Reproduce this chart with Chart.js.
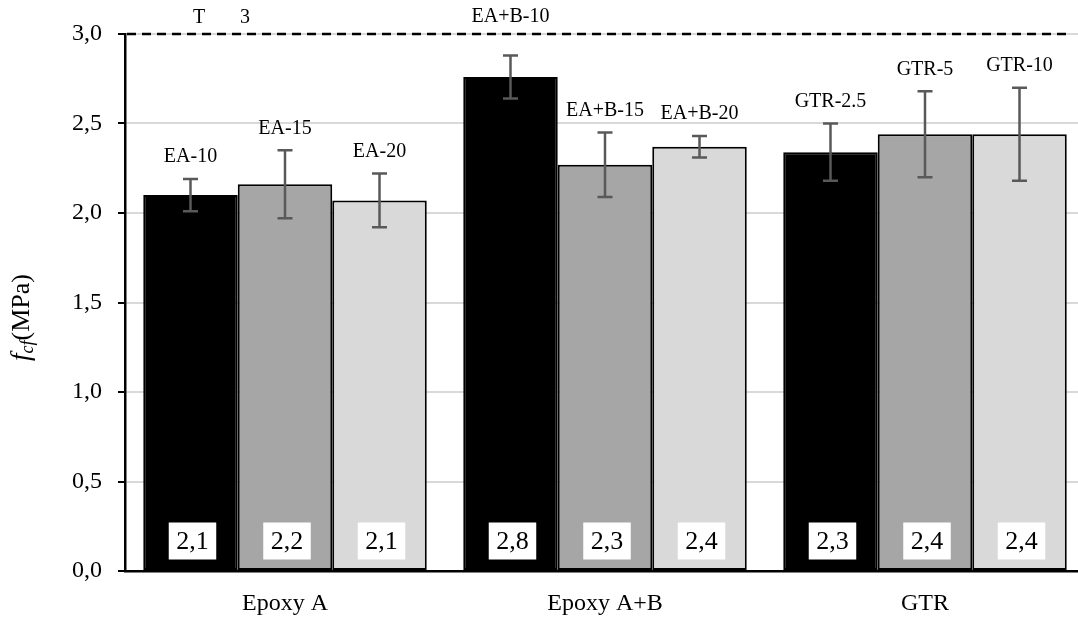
<!DOCTYPE html>
<html>
<head>
<meta charset="utf-8">
<script src="https://cdn.jsdelivr.net/npm/chart.js@4.4.1/dist/chart.umd.min.js"></script>
<style>
  html, body { margin: 0; padding: 0; background: #fff; overflow: hidden; }
  #wrap { width: 1078px; height: 617px; overflow: hidden; }
  canvas { display: block; }
</style>
</head>
<body>
<div id="wrap"><canvas id="c" width="1100" height="617"></canvas></div>
<script>
// Adhesive groups on the x axis
const groups = ['Epoxy A', 'Epoxy A+B', 'GTR'];

// Sample names, one per bar (first, second, third bar of each group)
const namesFirst  = ['EA-10', 'EA+B-10', 'GTR-2.5'];
const namesSecond = ['EA-15', 'EA+B-15', 'GTR-5'];
const namesThird  = ['EA-20', 'EA+B-20', 'GTR-10'];

// Mean flexural cohesive strength f_cf (MPa)
const meanFirst  = [2.10, 2.76, 2.34];
const meanSecond = [2.16, 2.27, 2.44];
const meanThird  = [2.07, 2.37, 2.44];

// Standard deviation (MPa)
const sdFirst  = [0.09, 0.12, 0.16];
const sdSecond = [0.19, 0.18, 0.24];
const sdThird  = [0.15, 0.06, 0.26];

// Reference level drawn as a dashed line
const thresholdValue = 3.0;
const thresholdText = ['T', '3'];

// Y-axis tick values
const yTicks = [0, 0.5, 1.0, 1.5, 2.0, 2.5, 3.0];

const SERIF = '"Liberation Serif", "Times New Roman", serif';
const fmt = v => v.toFixed(1).replace('.', ',');

const names = [namesFirst, namesSecond, namesThird];
const sds = [sdFirst, sdSecond, sdThird];

const annotate = {
  id: 'annotate',
  afterDatasetsDraw(chart) {
    const ctx = chart.ctx;
    const ys = chart.scales.y;
    const area = chart.chartArea;
    const lineY = ys.getPixelForValue(thresholdValue);

    ctx.save();
    // dashed reference line
    ctx.strokeStyle = '#000';
    ctx.lineWidth = 2.5;
    ctx.setLineDash([9, 6]);
    ctx.beginPath();
    ctx.moveTo(area.left + 2, lineY);
    ctx.lineTo(area.right - 15, lineY);
    ctx.stroke();
    ctx.setLineDash([]);

    ctx.fillStyle = '#000';
    ctx.font = '20px ' + SERIF;
    ctx.textAlign = 'center';
    ctx.textBaseline = 'middle';
    ctx.fillText(thresholdText[0], area.left + 74, lineY - 16);
    ctx.fillText(thresholdText[1], area.left + 120, lineY - 16);

    chart.data.datasets.forEach((ds, i) => {
      const meta = chart.getDatasetMeta(i);
      meta.data.forEach((bar, j) => {
        const v = ds.data[j];
        const sd = sds[i][j];
        const yTop = ys.getPixelForValue(v + sd);
        const yBot = ys.getPixelForValue(v - sd);
        const x = bar.x;

        // error bar
        ctx.strokeStyle = '#595959';
        ctx.lineWidth = 2.5;
        ctx.beginPath();
        ctx.moveTo(x, yTop); ctx.lineTo(x, yBot);
        ctx.moveTo(x - 7.5, yTop); ctx.lineTo(x + 7.5, yTop);
        ctx.moveTo(x - 7.5, yBot); ctx.lineTo(x + 7.5, yBot);
        ctx.stroke();

        // sample name above the error bar
        let ly = yTop - 22;
        if (Math.abs(ly - lineY) < 14) ly = lineY - 17;
        ctx.fillStyle = '#000';
        ctx.font = '20px ' + SERIF;
        ctx.textAlign = 'center';
        ctx.textBaseline = 'middle';
        ctx.fillText(names[i][j], x, ly);

        // value box at the foot of the bar
        const txt = fmt(v);
        ctx.font = '26px ' + SERIF;
        const w = ctx.measureText(txt).width + 15;
        const h = 37;
        const cy = ys.getPixelForValue(0) - 30;
        ctx.fillStyle = '#fff';
        ctx.fillRect(x - w / 2 + 2, cy - h / 2, w, h);
        ctx.fillStyle = '#000';
        ctx.fillText(txt, x + 2, cy + 1);
      });
    });

    // y-axis title: f_cf (MPa)
    const cy = (area.top + area.bottom) / 2 + 15;
    ctx.translate(22, cy);
    ctx.rotate(-Math.PI / 2);
    ctx.textBaseline = 'middle';
    ctx.textAlign = 'left';
    const parts = [
      { t: 'f', f: 'italic 27px ' + SERIF, dy: 0 },
      { t: 'cf', f: 'italic 18px ' + SERIF, dy: 6 },
      { t: '(MPa)', f: '26px ' + SERIF, dy: 0 }
    ];
    let total = 0;
    parts.forEach(p => { ctx.font = p.f; p.w = ctx.measureText(p.t).width; total += p.w; });
    let px = -total / 2;
    parts.forEach(p => {
      ctx.font = p.f;
      ctx.fillText(p.t, px, p.dy);
      px += p.w;
    });
    ctx.restore();
  }
};

new Chart(document.getElementById('c'), {
  type: 'bar',
  data: {
    labels: groups,
    datasets: [
      { label: 'first',  data: meanFirst,  backgroundColor: '#000000', borderColor: '#000', borderWidth: 2, borderSkipped: false },
      { label: 'second', data: meanSecond, backgroundColor: '#a6a6a6', borderColor: '#000', borderWidth: 2, borderSkipped: false },
      { label: 'third',  data: meanThird,  backgroundColor: '#d9d9d9', borderColor: '#000', borderWidth: 2, borderSkipped: false }
    ]
  },
  options: {
    responsive: false,
    animation: false,
    devicePixelRatio: 1,
    layout: { padding: { left: 0, top: 34, right: 15, bottom: 0 } },
    datasets: { bar: { categoryPercentage: 0.886, barPercentage: 1.0 } },
    plugins: { legend: { display: false }, tooltip: { enabled: false } },
    scales: {
      x: {
        grid: { display: false, drawTicks: false },
        border: { color: '#000', width: 2.5 },
        ticks: { color: '#000', font: { family: SERIF, size: 24 }, padding: 18, maxRotation: 0 },
        afterFit: s => { s.height = 46; }
      },
      y: {
        min: 0, max: 3,
        afterBuildTicks: s => { s.ticks = yTicks.map(v => ({ value: v })); },
        grid: { color: '#d9d9d9', lineWidth: 2, tickColor: '#000', tickLength: 7, tickWidth: 2 },
        border: { color: '#000', width: 2.5 },
        ticks: { color: '#000', font: { family: SERIF, size: 24 }, padding: 16, callback: v => fmt(v) },
        afterFit: s => { s.width = 125; }
      }
    }
  },
  plugins: [annotate]
});
</script>
</body>
</html>
